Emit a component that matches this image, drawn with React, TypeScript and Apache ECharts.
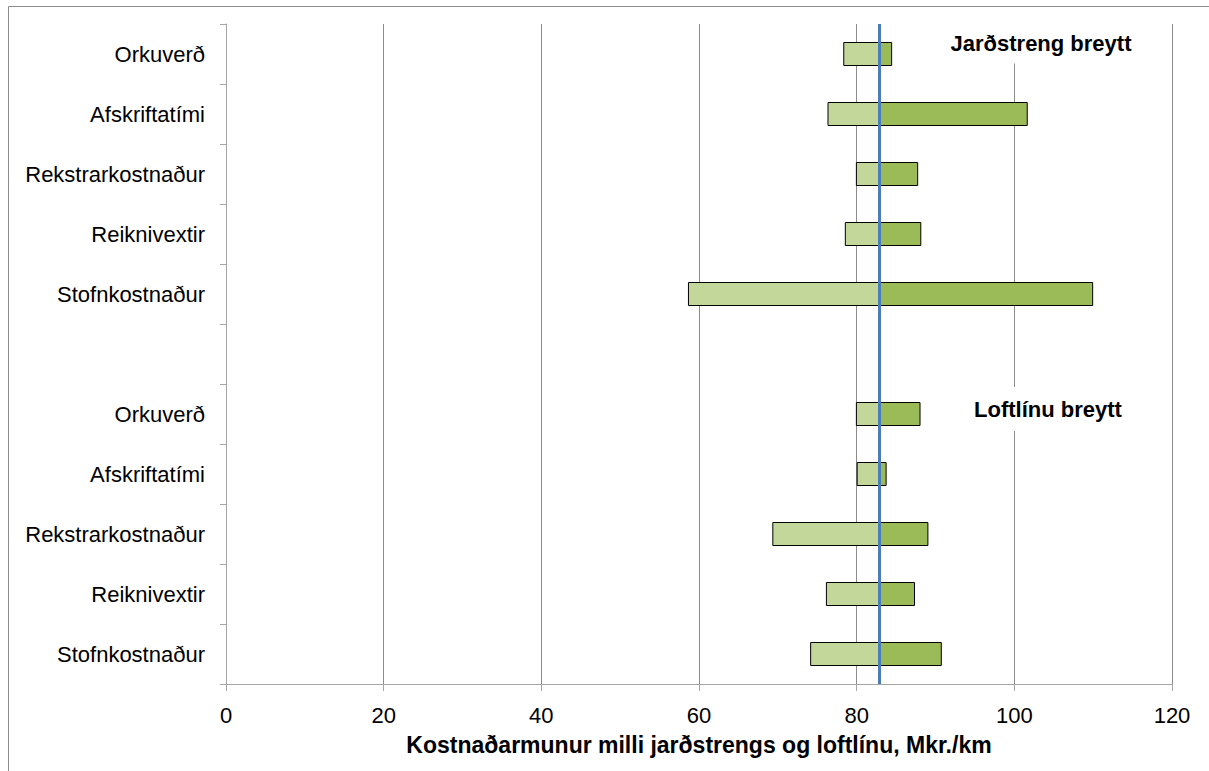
import React, { useEffect, useRef } from "react";
import * as echarts from "echarts";

// Sensitivity of the cost difference (Mkr./km) between underground cable and overhead line.
// Upper block: cable parameters varied; lower block: overhead-line parameters varied.
const categories = [
  "Orkuverð",
  "Afskriftatími",
  "Rekstrarkostnaður",
  "Reiknivextir",
  "Stofnkostnaður",
  "",
  "Orkuverð",
  "Afskriftatími",
  "Rekstrarkostnaður",
  "Reiknivextir",
  "Stofnkostnaður",
];

// Result at the base case
const baseValue = 82.9;

// Low and high end of each sensitivity range (null for the spacer row)
const lowValues: (number | null)[] = [78.3, 76.3, 79.9, 78.5, 58.6, null, 79.9, 80.0, 69.3, 76.1, 74.1];
const highValues: (number | null)[] = [84.5, 101.7, 87.8, 88.2, 110.0, null, 88.1, 83.8, 89.1, 87.4, 90.8];

const xTicks = { min: 0, max: 120, interval: 20 };

const FONT = "Liberation Sans, Arial, sans-serif";

export default function App() {
  const ref = useRef<HTMLDivElement>(null);

  useEffect(() => {
    if (!ref.current) return;
    const chart = echarts.init(ref.current, null, { renderer: "svg" });

    const offset = lowValues.map((v) => (v == null ? "-" : v));
    const lowPart = lowValues.map((v) => (v == null ? "-" : +(baseValue - v).toFixed(3)));
    const highPart = highValues.map((v) => (v == null ? "-" : +(v - baseValue).toFixed(3)));

    chart.setOption({
      animation: false,
      backgroundColor: "#ffffff",
      grid: { left: 226, right: 37, top: 24, bottom: 87, containLabel: false },
      xAxis: {
        type: "value",
        min: xTicks.min,
        max: xTicks.max,
        interval: xTicks.interval,
        name: "Kostnaðarmunur milli jarðstrengs og loftlínu, Mkr./km",
        nameLocation: "middle",
        nameGap: 49,
        nameTextStyle: { fontFamily: FONT, fontSize: 23, fontWeight: "bold", color: "#000" },
        axisLine: { show: true, lineStyle: { color: "#a6a6a6", width: 1 } },
        axisTick: { show: true, length: 7, lineStyle: { color: "#a6a6a6" } },
        axisLabel: { fontFamily: FONT, fontSize: 22, color: "#000", margin: 20 },
        splitLine: { show: true, lineStyle: { color: "#8c8c8c", width: 1 } },
      },
      yAxis: {
        type: "category",
        inverse: true,
        data: categories,
        axisLine: { show: true, lineStyle: { color: "#a6a6a6", width: 1 } },
        axisTick: { show: true, length: 6, lineStyle: { color: "#a6a6a6" } },
        axisLabel: { fontFamily: FONT, fontSize: 22, color: "#000", margin: 21 },
        splitLine: { show: false },
      },
      series: [
        {
          type: "bar",
          stack: "range",
          data: offset,
          barWidth: 24,
          itemStyle: { color: "transparent", borderWidth: 0 },
          silent: true,
        },
        {
          type: "bar",
          stack: "range",
          data: lowPart,
          barWidth: 24,
          itemStyle: { color: "#c4d79b", borderColor: "#000", borderWidth: 1 },
        },
        {
          type: "bar",
          stack: "range",
          data: highPart,
          barWidth: 24,
          itemStyle: { color: "#9bbb59", borderColor: "#000", borderWidth: 1 },
          markLine: {
            silent: true,
            symbol: "none",
            label: { show: false },
            lineStyle: { color: "#4a7ebb", width: 3, type: "solid" },
            data: [{ xAxis: baseValue }],
          },
        },
      ],
      graphic: [
        {
          type: "rect",
          shape: { x: 0, y: 0, width: 1209, height: 771 },
          style: { fill: "none", stroke: "#8c8c8c", lineWidth: 1 },
          x: 8.5,
          y: 6.5,
          silent: true,
          z: 100,
        },
        {
          type: "text",
          x: 1041,
          y: 43,
          z: 50,
          style: {
            text: "Jarðstreng breytt",
            fontFamily: FONT,
            fontSize: 22,
            fontWeight: "bold",
            fill: "#000",
            align: "center",
            verticalAlign: "middle",
            backgroundColor: "#fff",
            padding: [10, 6, 9, 6],
          },
        },
        {
          type: "text",
          x: 1048,
          y: 409,
          z: 50,
          style: {
            text: "Loftlínu breytt",
            fontFamily: FONT,
            fontSize: 22,
            fontWeight: "bold",
            fill: "#000",
            align: "center",
            verticalAlign: "middle",
            backgroundColor: "#fff",
            padding: [11, 6, 11, 6],
          },
        },
      ],
    });

    return () => chart.dispose();
  }, []);

  return (
    <div
      ref={ref}
      style={{ position: "absolute", left: 0, top: 0, width: 1209, height: 771 }}
    />
  );
}
